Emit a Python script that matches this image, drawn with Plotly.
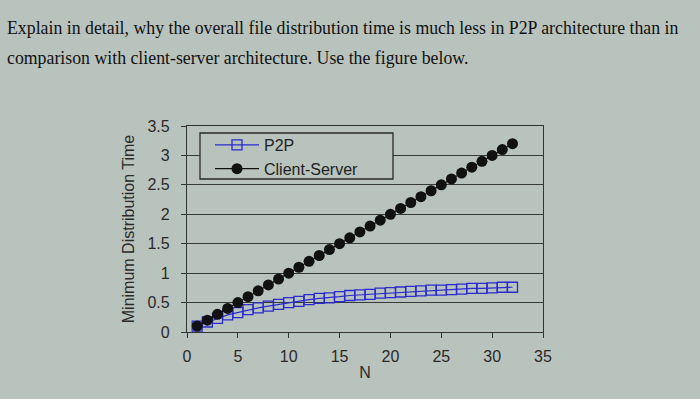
import plotly.graph_objects as go

N = list(range(1, 33))
client_server = [0.1, 0.2, 0.3, 0.4, 0.5, 0.6, 0.7, 0.8, 0.9, 1.0, 1.1, 1.2, 1.3, 1.4, 1.5, 1.6,
                 1.7, 1.8, 1.9, 2.0, 2.1, 2.2, 2.3, 2.4, 2.5, 2.6, 2.7, 2.8, 2.9, 3.0, 3.1, 3.2]
p2p = [0.1, 0.17, 0.23, 0.29, 0.33, 0.38, 0.41, 0.44, 0.47, 0.5, 0.52, 0.55, 0.57, 0.58, 0.6, 0.62,
       0.63, 0.64, 0.66, 0.67, 0.68, 0.69, 0.7, 0.71, 0.71, 0.72, 0.73, 0.74, 0.74, 0.75, 0.76, 0.76]
question_lines = [
    "Explain in detail, why the overall file distribution time is much less in P2P architecture than in",
    "comparison with client-server architecture. Use the figure below.",
]

W, H = 700, 399
L, R, T, B = 187, 157, 126, 67
pw, ph = W - L - R, H - T - B
bg = "#b9c3bd"

def px_x(p):
    return (p - L) / pw

def px_y(p):
    return (H - B - p) / ph

fig = go.Figure()
fig.add_trace(go.Scatter(
    x=N, y=p2p, name="P2P", mode="lines+markers",
    line=dict(color="#2a2ad0", width=1.2),
    marker=dict(symbol="square-open", size=10, color="#2a2ad0", line=dict(width=1.3)),
))
fig.add_trace(go.Scatter(
    x=N, y=client_server, name="Client-Server", mode="lines+markers",
    line=dict(color="#111111", width=1.2),
    marker=dict(symbol="circle", size=11, color="#111111"),
))

# legend frame
fig.add_shape(type="rect", xref="paper", yref="paper",
              x0=px_x(200), x1=px_x(393), y0=px_y(179), y1=px_y(133),
              fillcolor=bg, line=dict(color="#2a2a2a", width=1.3), layer="above")

fig.update_layout(
    width=W, height=H,
    margin=dict(l=L, r=R, t=T, b=B),
    paper_bgcolor=bg, plot_bgcolor=bg,
    font=dict(family="Liberation Sans, Arial, sans-serif", size=16, color="#2a2a2a"),
    showlegend=True,
    legend=dict(
        x=px_x(210), y=px_y(128), xanchor="left", yanchor="top",
        bgcolor="rgba(0,0,0,0)", borderwidth=0,
        font=dict(size=16, color="#222222"),
        tracegroupgap=0, itemwidth=44,
    ),
    xaxis=dict(
        range=[0, 35], dtick=5, tick0=0,
        showgrid=False, zeroline=False,
        showline=True, linecolor="#333333", linewidth=1.3, mirror=True,
        ticks="outside", ticklen=5, tickcolor="#333333",
        ticklabelstandoff=5,
        title=dict(text="N", font=dict(size=16, color="#2a2a2a"), standoff=2),
        tickfont=dict(size=16),
    ),
    yaxis=dict(
        range=[0, 3.5], dtick=0.5, tick0=0,
        showgrid=True, gridcolor="#353a37", gridwidth=1.4,
        zeroline=False,
        showline=True, linecolor="#333333", linewidth=1.3, mirror=True,
        ticks="outside", ticklen=5, tickcolor="#333333",
        ticklabelstandoff=8,
        title=dict(text="Minimum Distribution Time", font=dict(size=16, color="#2a2a2a"), standoff=8),
        tickfont=dict(size=16),
    ),
)

for i, line in enumerate(question_lines):
    fig.add_annotation(
        text=line, xref="paper", yref="paper",
        x=px_x(5), y=px_y([28, 58][i]),
        xanchor="left", yanchor="middle", showarrow=False,
        font=dict(family="Liberation Serif, Times New Roman, serif", size=17.8, color="#111111"),
    )

fig.write_html("out.html")
